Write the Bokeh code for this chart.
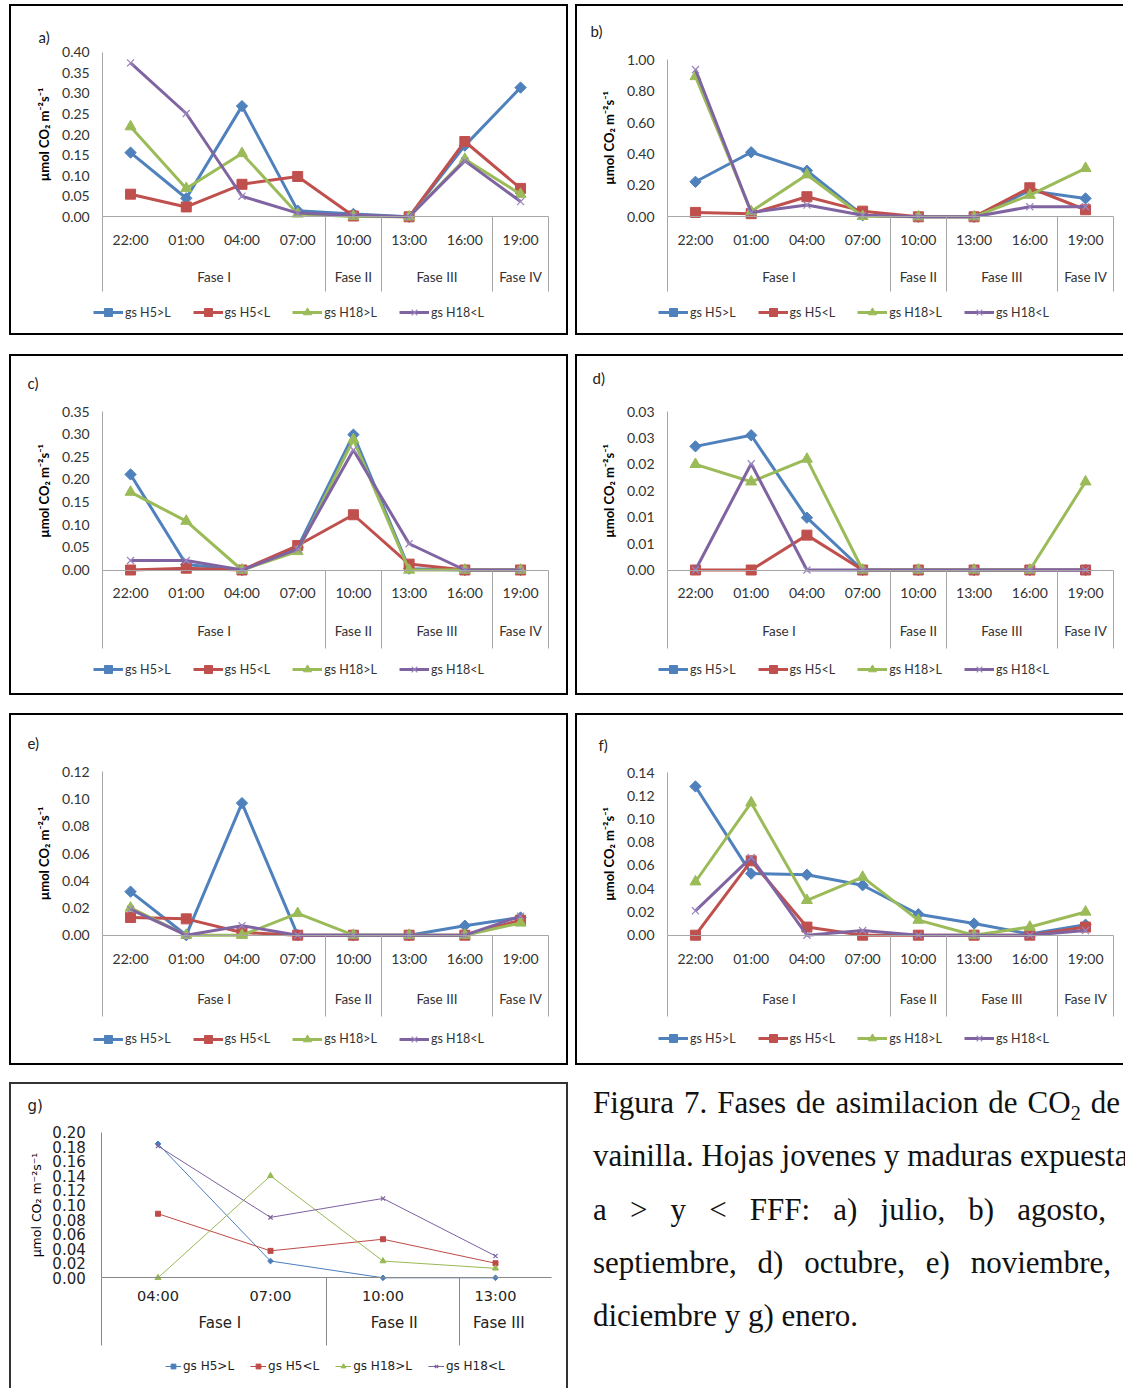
import math
from bokeh.plotting import figure
from bokeh.models import (Range1d, FixedTicker, LinearAxis, Legend, LegendItem,
                          Label, Div, Spacer)
from bokeh.layouts import row, column
from bokeh.embed import file_html
from bokeh.resources import INLINE

# ---------------- data ----------------
series_names = ["gs H5>L", "gs H5<L", "gs H18>L", "gs H18<L"]

times_main = ["22:00", "01:00", "04:00", "07:00", "10:00", "13:00", "16:00", "19:00"]
phases_main = ["Fase I", "Fase II", "Fase III", "Fase IV"]
phase_bounds_main = [0.5, 4.5, 5.5, 7.5, 8.5]
phase_centers_main = [2.5, 5, 6.5, 8]

times_g = ["04:00", "07:00", "10:00", "13:00"]
phases_g = ["Fase I", "Fase II", "Fase III"]
phase_bounds_g = [0.5, 2.5, 3.68]
phase_centers_g = [1.55, 3.1, 4.03]

# a) julio
a_h5_gt = [0.156, 0.045, 0.269, 0.015, 0.007, 0.0, 0.173, 0.314]
a_h5_lt = [0.055, 0.024, 0.079, 0.098, 0.002, 0.0, 0.183, 0.069]
a_h18_gt = [0.219, 0.069, 0.154, 0.007, 0.001, 0.0, 0.140, 0.055]
a_h18_lt = [0.374, 0.251, 0.050, 0.009, 0.003, 0.0, 0.136, 0.037]
a_yticks = [0.0, 0.05, 0.10, 0.15, 0.20, 0.25, 0.30, 0.35, 0.40]
a_ylabels = ["0.00", "0.05", "0.10", "0.15", "0.20", "0.25", "0.30", "0.35", "0.40"]

# b) agosto
b_h5_gt = [0.223, 0.411, 0.294, 0.010, 0.0, 0.0, 0.166, 0.117]
b_h5_lt = [0.028, 0.020, 0.128, 0.036, 0.0, 0.0, 0.185, 0.045]
b_h18_gt = [0.894, 0.034, 0.268, 0.003, 0.0, 0.0, 0.138, 0.309]
b_h18_lt = [0.938, 0.028, 0.075, 0.010, 0.0, 0.0, 0.064, 0.064]
b_yticks = [0.0, 0.2, 0.4, 0.6, 0.8, 1.0]
b_ylabels = ["0.00", "0.20", "0.40", "0.60", "0.80", "1.00"]

# c) septiembre
c_h5_gt = [0.211, 0.012, 0.0, 0.050, 0.299, 0.003, 0.0, 0.0]
c_h5_lt = [0.0, 0.004, 0.0, 0.054, 0.122, 0.013, 0.0, 0.0]
c_h18_gt = [0.172, 0.108, 0.0, 0.041, 0.288, 0.0, 0.0, 0.0]
c_h18_lt = [0.021, 0.021, 0.0, 0.046, 0.265, 0.058, 0.0, 0.0]
c_yticks = [0.0, 0.05, 0.10, 0.15, 0.20, 0.25, 0.30, 0.35]
c_ylabels = ["0.00", "0.05", "0.10", "0.15", "0.20", "0.25", "0.30", "0.35"]

# d) octubre
d_h5_gt = [0.0234, 0.0255, 0.0099, 0.0, 0.0, 0.0, 0.0, 0.0]
d_h5_lt = [0.0, 0.0, 0.0066, 0.0, 0.0, 0.0, 0.0, 0.0]
d_h18_gt = [0.0200, 0.0167, 0.0210, 0.0, 0.0, 0.0, 0.0, 0.0167]
d_h18_lt = [0.0, 0.0201, 0.0, 0.0, 0.0, 0.0, 0.0, 0.0]
d_yticks = [0.0, 0.005, 0.010, 0.015, 0.020, 0.025, 0.030]
d_ylabels = ["0.00", "0.01", "0.01", "0.02", "0.02", "0.03", "0.03"]

# e) noviembre
e_h5_gt = [0.032, 0.0, 0.097, 0.0, 0.0, 0.0, 0.007, 0.013]
e_h5_lt = [0.013, 0.012, 0.002, 0.0, 0.0, 0.0, 0.0, 0.011]
e_h18_gt = [0.020, 0.0, 0.0, 0.016, 0.0, 0.0, 0.0, 0.009]
e_h18_lt = [0.019, 0.0, 0.007, 0.0, 0.0, 0.0, 0.0, 0.014]
e_yticks = [0.0, 0.02, 0.04, 0.06, 0.08, 0.10, 0.12]
e_ylabels = ["0.00", "0.02", "0.04", "0.06", "0.08", "0.10", "0.12"]

# f) diciembre
f_h5_gt = [0.128, 0.053, 0.052, 0.043, 0.018, 0.010, 0.001, 0.009]
f_h5_lt = [0.0, 0.064, 0.007, 0.0, 0.0, 0.0, 0.0, 0.007]
f_h18_gt = [0.046, 0.114, 0.030, 0.050, 0.013, 0.0, 0.007, 0.020]
f_h18_lt = [0.021, 0.067, 0.0, 0.004, 0.0, 0.0, 0.0, 0.004]
f_yticks = [0.0, 0.02, 0.04, 0.06, 0.08, 0.10, 0.12, 0.14]
f_ylabels = ["0.00", "0.02", "0.04", "0.06", "0.08", "0.10", "0.12", "0.14"]

# g) enero
g_h5_gt = [0.184, 0.023, 0.0, 0.0]
g_h5_lt = [0.088, 0.037, 0.053, 0.020]
g_h18_gt = [0.0, 0.140, 0.023, 0.013]
g_h18_lt = [0.181, 0.083, 0.109, 0.030]
g_yticks = [0.0, 0.02, 0.04, 0.06, 0.08, 0.10, 0.12, 0.14, 0.16, 0.18, 0.20]
g_ylabels = ["0.00", "0.02", "0.04", "0.06", "0.08", "0.10", "0.12", "0.14", "0.16", "0.18", "0.20"]

y_title = "µmol CO₂ m⁻²s⁻¹"

caption_lines = [
    "Figura 7. Fases de asimilacion de CO<sub>2</sub> de",
    "vainilla. Hojas jovenes y maduras expuestas",
    "a &gt; y &lt; FFF: a) julio, b) agosto,",
    "septiembre, d) octubre, e) noviembre,",
    "diciembre y g) enero.",
]

# ---------------- styles ----------------
EXCEL = dict(font="Lato", tick_size="14px", time_size="14px", phase_size="13.5px",
             legend_size="12.5px", title_size="13px", title_style="bold",
             text_color="#333333",
             colors=["#4F81BD", "#C0504D", "#9BBB59", "#9A86BE"],
             line_colors=["#4F81BD", "#C0504D", "#9BBB59", "#8064A2"],
             lw=3, sizes=[8, 10, 11, 10], glyph_w=30, glyph_h=20, spacing=22,
             axis_color="#A6A6A6", tick_standoff=13, title_standoff=7)
GSTY = dict(font="DejaVu Sans", tick_size="15px", time_size="14.5px", phase_size="15px",
            legend_size="12px", title_size="12.5px", title_style="normal",
            text_color="#222222",
            colors=["#4A7EBB", "#BE4B48", "#98B954", "#7D60A0"],
            line_colors=["#4A7EBB", "#BE4B48", "#98B954", "#7D60A0"],
            lw=1, sizes=[4, 5, 6, 6], glyph_w=16, glyph_h=12, spacing=16,
            axis_color="#888888", tick_standoff=16, title_standoff=5)
MARKERS = ["square", "square", "triangle", "x"]
ANGLES = [math.pi / 4, 0, 0, 0]


def make_panel(letter, box, borders, geom, times, bounds, centers, phases,
               series, yticks, ylabels, sty, border_color="black"):
    hl, ht, W, H = box                  # host element (page px), canvas is W x H
    Lb, Tb, Rb, Bb = borders
    X0, Y0 = hl + Lb, ht + Tb           # canvas origin on the page
    fl, fr, top, zero, bot, time_c, phase_c, leg_y, leg_x, let_x, let_y = geom
    n = len(times)
    ymax = yticks[-1]
    u = (fr - fl) / n                   # px per category
    k = ymax / (zero - top)             # value per px
    x0 = 0.5 - (fl - X0) / u
    x1 = 0.5 + (X0 + W - fl) / u
    y1 = (zero - Y0) * k
    y0 = (zero - Y0 - H) * k
    css = {}
    for side, w in zip(["left", "top", "right", "bottom"], borders):
        css["border-" + side] = f"{w}px solid {border_color}" if w else "none"
    p = figure(width=W, height=H, x_range=Range1d(x0, x1), y_range=Range1d(y0, y1),
               x_axis_type=None, y_axis_type=None, output_backend="svg",
               toolbar_location=None, min_border=0, styles=css)
    p.outline_line_color = None
    p.background_fill_color = "white"
    p.border_fill_color = "white"

    # y axis (drawn at x=0.5, from 0 to ymax)
    ya = LinearAxis(ticker=FixedTicker(ticks=yticks),
                    major_label_overrides=dict(zip(yticks, ylabels)),
                    axis_label=y_title, fixed_location=0.5, bounds=(0, ymax))
    ya.axis_line_color = sty["axis_color"]
    ya.major_tick_line_color = None
    ya.major_tick_out = 0
    ya.major_tick_in = 0
    ya.minor_tick_line_color = None
    ya.minor_tick_out = 0
    ya.major_label_standoff = sty["tick_standoff"]
    ya.major_label_text_font = sty["font"]
    ya.major_label_text_font_size = sty["tick_size"]
    ya.major_label_text_color = sty["text_color"]
    ya.axis_label_text_font = sty["font"]
    ya.axis_label_text_font_size = sty["title_size"]
    ya.axis_label_text_font_style = sty["title_style"]
    ya.axis_label_text_color = "black"
    ya.axis_label_standoff = sty["title_standoff"]
    p.add_layout(ya, "left")

    xs = list(range(1, n + 1))
    # time labels + horizontal axis line at y=0
    xa = LinearAxis(ticker=FixedTicker(ticks=xs),
                    major_label_overrides=dict(zip(xs, times)),
                    fixed_location=0, bounds=(0.5, n + 0.5))
    xa.axis_line_color = sty["axis_color"]
    xa.major_tick_line_color = None
    xa.major_tick_out = 0
    xa.major_tick_in = 0
    xa.minor_tick_line_color = None
    xa.minor_tick_out = 0
    xa.major_label_standoff = int(round(time_c - zero - 10.5))
    xa.major_label_text_font = sty["font"]
    xa.major_label_text_font_size = sty["time_size"]
    xa.major_label_text_color = sty["text_color"]
    p.add_layout(xa, "below")

    # phase separators (minor ticks hanging below the axis)
    sa = LinearAxis(ticker=FixedTicker(ticks=[], minor_ticks=bounds), fixed_location=0)
    sa.axis_line_color = None
    sa.major_tick_line_color = None
    sa.major_tick_out = 0
    sa.minor_tick_line_color = sty["axis_color"]
    sa.minor_tick_in = 0
    sa.minor_tick_out = int(round(bot - zero))
    p.add_layout(sa, "below")

    # phase labels
    pa = LinearAxis(ticker=FixedTicker(ticks=centers),
                    major_label_overrides=dict(zip(centers, phases)), fixed_location=0)
    pa.axis_line_color = None
    pa.major_tick_line_color = None
    pa.major_tick_out = 0
    pa.major_tick_in = 0
    pa.minor_tick_line_color = None
    pa.minor_tick_out = 0
    pa.major_label_standoff = int(round(phase_c - zero - 10))
    pa.major_label_text_font = sty["font"]
    pa.major_label_text_font_size = sty["phase_size"]
    pa.major_label_text_color = sty["text_color"]
    p.add_layout(pa, "below")

    items = []
    for i, (name, vals) in enumerate(zip(series_names, series)):
        lr = p.line(xs, vals, line_color=sty["line_colors"][i], line_width=sty["lw"])
        mk = MARKERS[i]
        if mk == "x":
            sr = p.scatter(xs, vals, marker=mk, size=sty["sizes"][i],
                           line_color=sty["colors"][i], line_width=1.2)
        else:
            sr = p.scatter(xs, vals, marker=mk, size=sty["sizes"][i], angle=ANGLES[i],
                           fill_color=sty["colors"][i], line_color=sty["colors"][i])
        items.append(LegendItem(label=name, renderers=[lr, sr]))

    leg_h = sty["glyph_h"]
    legend = Legend(items=items, orientation="horizontal",
                    location=(leg_x - X0, (Y0 + H) - (leg_y + leg_h / 2)))
    legend.padding = 0
    legend.margin = 0
    legend.spacing = sty["spacing"]
    legend.label_standoff = 2
    legend.glyph_width = sty["glyph_w"]
    legend.glyph_height = leg_h
    legend.label_height = leg_h
    legend.label_text_font = sty["font"]
    legend.label_text_font_size = sty["legend_size"]
    legend.label_text_color = sty["text_color"]
    legend.border_line_color = None
    legend.background_fill_alpha = 0
    p.add_layout(legend)

    lab = Label(x=let_x - X0, y=(Y0 + H) - let_y, x_units="screen", y_units="screen",
                text=letter, text_font=sty["font"], text_font_size="15px",
                text_baseline="middle", text_align="left", text_color="#222222")
    p.add_layout(lab)
    return p


B4 = (2, 2, 2, 2)
BR = (2, 2, 0, 2)

pa_ = make_panel("a)", (9, 4, 559, 331), B4,
                 (102.2, 547.9, 51.7, 216.3, 291, 241, 278.3, 312, 93, 38, 36),
                 times_main, phase_bounds_main, phase_centers_main, phases_main,
                 [a_h5_gt, a_h5_lt, a_h18_gt, a_h18_lt], a_yticks, a_ylabels, EXCEL)
pb_ = make_panel("b)", (575, 4, 548, 331), BR,
                 (667.1, 1112.9, 59.3, 216.3, 291, 241, 278.3, 312, 658, 590, 30),
                 times_main, phase_bounds_main, phase_centers_main, phases_main,
                 [b_h5_gt, b_h5_lt, b_h18_gt, b_h18_lt], b_yticks, b_ylabels, EXCEL)
pc_ = make_panel("c)", (9, 354, 559, 341), B4,
                 (102.2, 547.9, 411, 569.5, 647.7, 594.3, 632.7, 669.3, 93, 27, 382),
                 times_main, phase_bounds_main, phase_centers_main, phases_main,
                 [c_h5_gt, c_h5_lt, c_h18_gt, c_h18_lt], c_yticks, c_ylabels, EXCEL)
pd_ = make_panel("d)", (575, 354, 548, 341), BR,
                 (667.1, 1112.9, 411, 569.5, 647.7, 594.3, 632.7, 669.3, 658, 592, 377),
                 times_main, phase_bounds_main, phase_centers_main, phases_main,
                 [d_h5_gt, d_h5_lt, d_h18_gt, d_h18_lt], d_yticks, d_ylabels, EXCEL)
pe_ = make_panel("e)", (9, 713, 559, 352), B4,
                 (102.2, 547.9, 771.3, 934.7, 1016, 960.3, 1000.7, 1038.5, 93, 27, 742),
                 times_main, phase_bounds_main, phase_centers_main, phases_main,
                 [e_h5_gt, e_h5_lt, e_h18_gt, e_h18_lt], e_yticks, e_ylabels, EXCEL)
pf_ = make_panel("f)", (575, 713, 548, 352), BR,
                 (667.1, 1112.9, 772, 934.7, 1016, 960.3, 1000.7, 1038, 658, 598, 744),
                 times_main, phase_bounds_main, phase_centers_main, phases_main,
                 [f_h5_gt, f_h5_lt, f_h18_gt, f_h18_lt], f_yticks, f_ylabels, EXCEL)
pg_ = make_panel("g)", (9, 1082, 559, 306), (2, 2, 2, 0),
                 (101.25, 551.25, 1131.7, 1277.3, 1345, 1297.7, 1323.3, 1367.3, 165, 27, 1105),
                 times_g, phase_bounds_g, phase_centers_g, phases_g,
                 [g_h5_gt, g_h5_lt, g_h18_gt, g_h18_lt], g_yticks, g_ylabels, GSTY,
                 border_color="#333333")

line_styles = [
    "width:527px;text-align:justify;text-align-last:justify;",
    "white-space:nowrap;",
    "width:513px;text-align:justify;text-align-last:justify;",
    "width:518px;text-align:justify;text-align-last:justify;",
    "white-space:nowrap;",
]
html = ("<div style=\"font-family:'Liberation Serif','Times New Roman',serif;font-size:31px;"
        "line-height:53.3px;color:#111;padding-left:13px;\">")
for txt, st in zip(caption_lines, line_styles):
    txt = txt.replace("<sub>", "<sub style=\"font-size:0.65em;line-height:0;\">")
    html += f"<div style=\"{st}\">{txt}</div>"
html += "</div>"
cap = Div(text=html, width=550, height=319, styles={"overflow": "hidden"})

left_col = column(
    Spacer(width=559, height=4), pa_,
    Spacer(width=559, height=19), pc_,
    Spacer(width=559, height=18), pe_,
    Spacer(width=559, height=17), pg_,
)
right_col = column(
    Spacer(width=550, height=4), pb_,
    Spacer(width=550, height=19), pd_,
    Spacer(width=550, height=18), pf_,
    Spacer(width=550, height=6), cap,
)
layout = row(Spacer(width=9, height=1390), left_col, Spacer(width=7, height=1390), right_col)

open("out.html", "w").write(file_html(layout, INLINE))
